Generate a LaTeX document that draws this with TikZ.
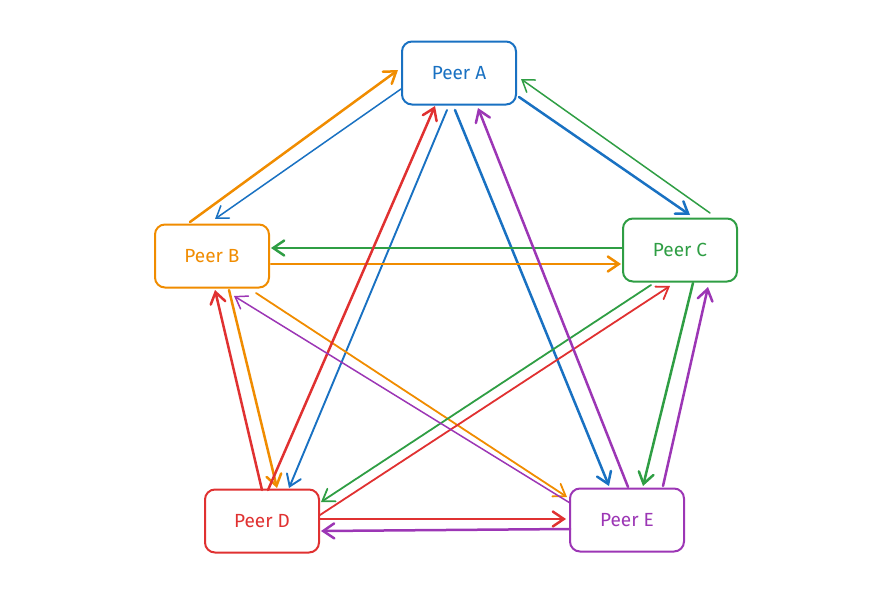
\documentclass[tikz,border=0pt]{standalone}
\usepackage{fontspec}
\setmainfont{Fira Sans}
\usetikzlibrary{arrows.meta,calc}
\definecolor{cblue}{HTML}{1971C2}
\definecolor{corange}{HTML}{F08C00}
\definecolor{cgreen}{HTML}{2F9E44}
\definecolor{cred}{HTML}{E03131}
\definecolor{cpurple}{HTML}{9C36B5}
\tikzset{
  peer/.style={draw=#1, text=#1, line width=2pt, rounded corners=10pt, fill=white,
    minimum width=114pt, minimum height=63pt, inner sep=0pt,
    font=\fontsize{19}{19}\selectfont},
  link/.style={draw=#1, line cap=round, line join=round,
    -{Straight Barb[length=11pt,width=15pt,line cap=round]}},
  thick link/.style={link=#1, line width=2.5pt},
  thin link/.style={link=#1, line width=1.5pt},
}
\begin{document}
\begin{tikzpicture}[x=1pt,y=-1pt]
\useasboundingbox (0,0) rectangle (892,597);
\node[peer=cblue]   (A) at (459,73)  {Peer A};
\node[peer=corange] (B) at (212,256) {Peer B};
\node[peer=cgreen]  (C) at (680,250) {Peer C};
\node[peer=cred]    (D) at (262,521) {Peer D};
\node[peer=cpurple] (E) at (627,520) {Peer E};
% blue
\draw[thin link=cblue]  ($(A)+(-58,16)$) -- ($(B)+(3,-37)$);
\draw[thick link=cblue] ($(A)+(60,24)$) -- ($(C)+(10,-35)$);
\draw[thin link=cblue, line width=1.9pt] ($(A)+(-12,37)$) -- ($(D)+(27,-33)$);
\draw[thick link=cblue] ($(A)+(-4,37)$) -- ($(E)+(-18,-34)$);
% orange
\draw[thick link=corange] ($(B)+(-22,-34)$) -- ($(A)+(-61,-3)$);
\draw[thick link=corange] ($(B)+(59,8)$) -- ($(C)+(-59,14)$);
\draw[thick link=corange] ($(B)+(17,34)$) -- ($(D)+(15,-33)$);
\draw[thin link=corange, line width=1.8pt] ($(B)+(44,37)$) -- ($(E)+(-60,-23)$);
% green
\draw[thin link=cgreen]  ($(C)+(30,-37)$) -- ($(A)+(62,6)$);
\draw[thick link=cgreen] ($(C)+(-58,-2)$) -- ($(B)+(59,-8)$);
\draw[thin link=cgreen, line width=1.8pt]  ($(C)+(-29,35)$) -- ($(D)+(59,-19)$);
\draw[thick link=cgreen] ($(C)+(13,33)$) -- ($(E)+(16,-34)$);
% red
\draw[thick link=cred] ($(D)+(6,-31)$) -- ($(A)+(-24,33)$);
\draw[thick link=cred] ($(D)+(0,-31)$) -- ($(B)+(3,34)$);
\draw[thin link=cred, line width=1.8pt]  ($(D)+(58,-6)$) -- ($(C)+(-10,36)$);
\draw[thick link=cred] ($(D)+(58,-2)$) -- ($(E)+(-61,-1)$);
% purple
\draw[thick link=cpurple] ($(E)+(1,-33)$) -- ($(A)+(19,35)$);
\draw[thin link=cpurple]  ($(E)+(-57,-17)$) -- ($(B)+(22,40)$);
\draw[thick link=cpurple] ($(E)+(36,-34)$) -- ($(C)+(28,37)$);
\draw[thick link=cpurple] ($(E)+(-57,9)$) -- ($(D)+(59,10)$);
\end{tikzpicture}
\end{document}
